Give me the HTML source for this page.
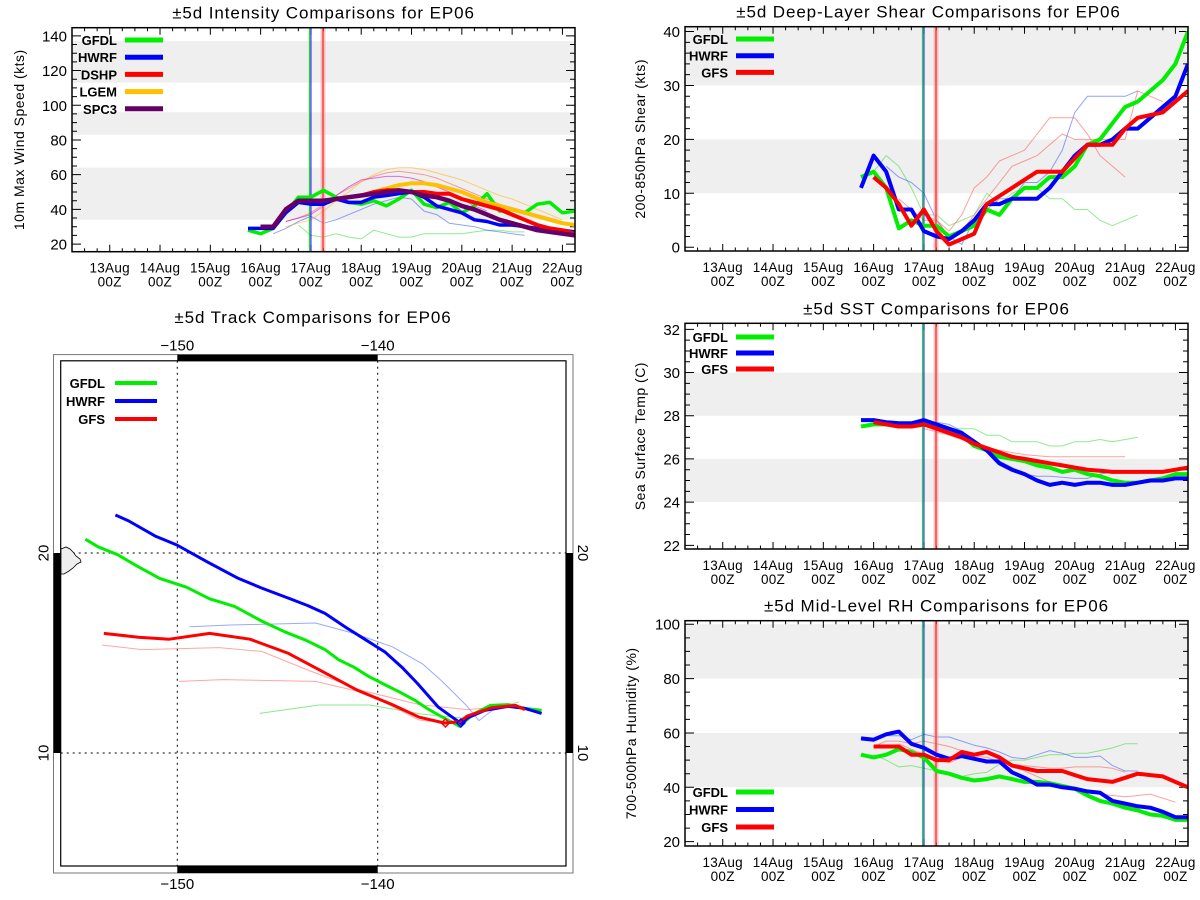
<!DOCTYPE html>
<html><head><meta charset="utf-8"><title>EP06 Comparisons</title>
<style>
html,body{margin:0;padding:0;background:#fff;}
svg{display:block;font-family:"Liberation Sans",sans-serif;}
</style></head>
<body>
<svg id="fig" width="1200" height="900" viewBox="0 0 1200 900" xmlns="http://www.w3.org/2000/svg"></svg>
<script>
// ===== DATA (time in days since 13Aug 00Z, 6-hourly steps) =====
const dayLabels = ["13Aug","14Aug","15Aug","16Aug","17Aug","18Aug","19Aug","20Aug","21Aug","22Aug"];
const initTimes = [3.97, 4.0, 4.24];

// Intensity (kts)
const intGFDL = [28,26,29,38,47,47,51,47,44,43,45,42,46,51,43,41,44,38,42,49,39,40,38,43,44,38,39];
const intGFDLStart = 2.75;
const intHWRF = [29,29,29,38,44,43,43,46,44,44,47,48,49,50,47,42,40,38,34,33,31,31,30,29,28,28,27];
const intHWRFStart = 2.75;
const intDSHP = [30,30,40,45,45,45,46,47,48,50,51,51,50,50,49,49,46,44,42,40,37,34,31,29,28,26];
const intDSHPStart = 3.0;
const intLGEM = [30,30,40,45,45,45,46,47,48,50,52,54,55,55,54,52,50,47,44,42,40,38,36,34,32,31];
const intLGEMStart = 3.0;
const intSPC3 = [30,30,40,45,45,45,46,47,48,49,50,51,50,48,47,45,42,40,37,34,32,30,28,27,26,25];
const intSPC3Start = 3.0;
const intOldGFDL = [31,25,24,26,24,23,28,26,24,24,26,26,26,26,27,28,28,27,27];
const intOldGFDLStart = 3.75;
const intOldHWRF = [26,29,33,36,32,34,37,40,43,45,47,46,39,37,32,31,30,28,27,26,25];
const intOldHWRFStart = 3.25;
const intOldDSHP = [33,35,38,43,48,52,56,59,61,62,61,60,58,55,52,49,46,43,41,39,37,35,33];
const intOldDSHPStart = 3.5;
const intOldLGEM = [30,32,34,39,45,50,56,60,63,64,64,63,61,59,57,54,51,48,46,43,40,37,34];
const intOldLGEMStart = 3.5;
const intOldSPC3 = [33,35,37,42,48,53,57,58,59,59,58,56,53,50,46,42,39];
const intOldSPC3Start = 3.5;

// Shear (kts)
const shrGFDL = [13,14,11,3.5,5,4,4,2,3,4,7,6,9,11,11,13,13,15,19,20,23,26,27,29,31,34,40];
const shrGFDLStart = 2.75;
const shrHWRF = [11,17,14,7,7,3,2,1.5,3,5,8,8,9,9,9,11,14,17,19,19,20,22,22,24,26,28,34];
const shrHWRFStart = 2.75;
const shrGFS = [13,11,8,4,7,3,0.5,1.5,2.5,8,9.5,11,12.5,14,14,14,16.5,19,19,19,22,24,24.5,25,27,29];
const shrGFSStart = 3.0;
const shrOldGFDL = [14,17,15,11,6,6,4,5,6,10,8,10,11,11,9,9,7,7,5,4,5,6];
const shrOldGFDLStart = 3.0;
const shrOldHWRF = [15,13,12,10,5,2,0.5,5,7,9,9,12,12,14,18,25,28,28,28,28,29];
const shrOldHWRFStart = 3.25;
const shrOldGFS1 = [9,7,5,5,3,6,11,13,16,17,18,21,24,24,24,21,17,15,13];
const shrOldGFS1Start = 3.5;
const shrOldGFS2 = [6,5,2,3,6,9,12,15,16,17,19,21,20,20,20,20,20,29,28,27];
const shrOldGFS2Start = 4.0;

// SST (C)
const sstGFDL = [27.5,27.6,27.6,27.5,27.5,27.6,27.5,27.3,27.1,26.6,26.4,26.1,26.0,25.9,25.7,25.6,25.4,25.5,25.3,25.2,25.0,24.9,24.9,25.0,25.1,25.3,25.3];
const sstGFDLStart = 2.75;
const sstHWRF = [27.8,27.8,27.7,27.65,27.65,27.8,27.6,27.4,27.2,26.8,26.4,25.8,25.5,25.3,25.0,24.8,24.9,24.8,24.9,24.9,24.8,24.8,24.9,25.0,25.0,25.1,25.1];
const sstHWRFStart = 2.75;
const sstGFS = [27.7,27.6,27.5,27.5,27.6,27.4,27.2,27.0,26.7,26.5,26.3,26.1,26.0,25.9,25.8,25.7,25.6,25.5,25.45,25.4,25.4,25.4,25.4,25.4,25.5,25.6];
const sstGFSStart = 3.0;
const sstOldGFDL = [27.5,27.5,27.4,27.4,27.4,27.1,27.1,26.8,26.8,26.8,26.6,26.6,26.8,26.8,26.9,26.8,26.9,27.0];
const sstOldGFDLStart = 4.0;
const sstOldGFS = [27.4,27.25,27.1,26.9,26.7,26.55,26.4,26.3,26.2,26.15,26.1,26.1,26.1,26.1,26.1,26.1,26.1];
const sstOldGFSStart = 4.0;
const sstOldHWRF = [27.7,27.6,27.3,26.8,26.3,25.9,25.6,25.3,25.2,25.2,25.15,25.1,25.1,25.3,25.4];
const sstOldHWRFStart = 4.25;

// RH (%)
const rhGFDL = [52,51,52,54,53,51,46,45,43.5,42.5,43,44,43,42,42,41.5,40.5,39.5,37,35,34,32.5,31.5,30,29.5,28,28];
const rhGFDLStart = 2.75;
const rhHWRF = [58,57.5,59.5,60.5,56,54.5,52,50.5,51.5,50.5,49.5,49.5,45.5,43.5,41,41,40,39.5,38.5,38,35,34,33,32.5,31,29,29];
const rhHWRFStart = 2.75;
const rhGFS = [55,55,55,52,52,50,50,53,52,53,51,48,47,46,46,46,44.5,43,42.5,42,43.5,45,44.5,44,42,40];
const rhGFSStart = 3.0;
const rhOldGFDL = [52,50,47.5,48,47,46,45,44,45,45.5,48.5,50,50,51,52,52,52.5,52.5,53.5,54.5,56,56];
const rhOldGFDLStart = 3.0;
const rhOldHWRF = [59,59,57.5,59.5,58.5,58.5,57,55.5,54.5,53,51,50.5,52,53.5,52.5,51,51,51.5,48,46,46];
const rhOldHWRFStart = 3.25;
const rhOldGFS1 = [55,57,57,56,57,56,55,53.5,51.5,51,49.5,48,46,44,42,40,39,38,37.5,37,36.5,37,37.5,36,34.5];
const rhOldGFS1Start = 3.0;
const rhOldGFS2 = [56,54,52,50,49,51,51,50,49,48.5,48,47.5,47,47,47.5,47.5,47.5,47,45.5];
const rhOldGFS2Start = 3.5;

// Tracks (lon, lat)
const trkGFDLLon = [-154.59,-153.95,-152.99,-151.94,-150.88,-149.54,-148.39,-147.14,-145.80,-144.64,-143.59,-142.63,-141.96,-141.19,-140.42,-139.65,-138.89,-138.12,-137.54,-136.87,-135.91,-135.24,-134.38,-133.51,-132.65,-131.82];
const trkGFDLLat = [20.69,20.31,19.92,19.31,18.73,18.29,17.71,17.33,16.60,16.06,15.64,15.17,14.67,14.29,13.81,13.42,13.04,12.62,12.23,11.85,11.33,11.94,12.38,12.42,12.23,12.13];
const trkHWRFLon = [-153.09,-152.42,-151.07,-150.02,-148.48,-146.95,-145.80,-144.26,-143.49,-142.63,-141.57,-140.81,-139.65,-138.79,-138.02,-136.97,-135.82,-135.53,-134.66,-133.51,-132.65,-131.82];
const trkHWRFLat = [21.90,21.60,20.83,20.40,19.54,18.73,18.25,17.67,17.37,16.98,16.27,15.79,15.06,14.29,13.48,12.29,11.46,11.75,12.13,12.33,12.23,11.98];
const trkGFSLon = [-153.67,-151.94,-150.40,-148.39,-146.37,-144.45,-142.73,-141.00,-139.27,-137.93,-136.68,-135.91,-135.53,-134.28,-133.13,-132.65];
const trkGFSLat = [15.98,15.79,15.69,15.98,15.69,14.98,14.06,13.13,12.42,11.79,11.50,11.56,11.85,12.27,12.38,12.17];
const trkOldHWRFLon = [-149.39,-147.33,-143.11,-141.19,-139.27,-137.74,-136.78,-135.53,-134.95,-134.28,-133.51];
const trkOldHWRFLat = [16.31,16.40,16.50,15.98,15.31,14.44,13.58,12.33,11.62,12.13,12.33];
const trkOldGFS1Lon = [-153.76,-151.75,-147.91,-145.80,-143.49,-140.81,-137.93,-135.53,-133.13];
const trkOldGFS1Lat = [15.40,15.17,15.27,15.08,14.15,13.13,12.42,12.17,12.38];
const trkOldGFS2Lon = [-149.92,-147.72,-143.11,-140.61,-137.93,-137.16];
const trkOldGFS2Lat = [13.58,13.67,13.58,13.00,11.65,11.56];
const trkOldGFDLLon = [-145.89,-142.92,-140.42,-137.74,-135.82,-132.94];
const trkOldGFDLLat = [11.98,12.40,12.40,11.94,11.75,12.56];
const lonTicks = [-150,-140];
const latTicks = [20,10];

// ===== DRAWING =====
const NS = "http://www.w3.org/2000/svg";
const svg = document.getElementById("fig");
function mk(tag, attrs, parent){
  const e = document.createElementNS(NS, tag);
  for (const k in attrs) e.setAttribute(k, attrs[k]);
  (parent || svg).appendChild(e);
  return e;
}
function txt(s, x, y, size, anchor, parent, extra){
  const t = mk("text", Object.assign({x:x, y:y, "font-size":size, "text-anchor":anchor||"middle", fill:"#000"}, extra||{}), parent);
  t.textContent = s;
  return t;
}

function timePanel(cfg){
  const g = mk("g", {});
  
  
  const L = cfg.x0, R = cfg.x0 + 503, T = cfg.top, B = cfg.bottom;
  const xs = d => L + (d + 0.75) / 10 * (R - L);
  const ys = v => B - (v - cfg.ymin) / (cfg.ymax - cfg.ymin) * (B - T);
  cfg.bands.forEach(b => {
    const lo = Math.max(b[0], cfg.ymin), hi = Math.min(b[1], cfg.ymax);
    const r = mk("rect", {x:L, y:ys(hi), width:R-L, height:ys(lo)-ys(hi), fill:"#efefef"}, g);
    
    
  });
  const ti = txt(cfg.title, (L+R)/2 + cfg.titleDx, T - 9, 17, "middle", g, {"letter-spacing":"0.9"});
  
  
  const yt = txt(cfg.ytitle, 0, 0, 14, "middle", g, {transform:`translate(${cfg.ytx},${(T+B)/2}) rotate(-90)`, "letter-spacing":"0.5"});
  
  
  let tp = "";
  for (let d = -0.75; d <= 9.26; d += 0.25) {
    const x = xs(d), len = Math.abs(d - Math.round(d)) < 0.01 ? 7 : 3.5;
    tp += `M${x},${B}v${-len}M${x},${T}v${len}`;
  }
  for (let v = Math.ceil(cfg.ymin / cfg.minor) * cfg.minor; v <= cfg.ymax; v += cfg.minor) {
    const y = ys(v), maj = Math.abs(v / cfg.major - Math.round(v / cfg.major)) < 1e-6;
    const len = maj ? 9 : 5;
    tp += `M${L},${y}h${len}M${R},${y}h${-len}`;
  }
  const tk = mk("path", {d:tp, stroke:"#000", "stroke-width":1, fill:"none"}, g);
  
  
  cfg.yticks.forEach(v => {
    const t = txt(String(v), L - 5, ys(v) + 5.5, 15, "end", g);
    
    
  });
  dayLabels.forEach((s, i) => {
    const t1 = txt(s, xs(i), B + 21, 13.5, "middle", g, {"letter-spacing":"0.3"});
    
    
    const t2 = txt("00Z", xs(i), B + 35, 13.5, "middle", g, {"letter-spacing":"0.3"});
    
    
  });
  const clip = "clip-" + cfg.name;
  const cp = mk("clipPath", {id:clip}, g);
  mk("rect", {x:L, y:T, width:R-L, height:B-T}, cp);
  const sg = mk("g", {"clip-path":`url(#${clip})`}, g);
  function line(vals, start, color, w, name, op){
    const pts = vals.map((v, i) => xs(start + i * 0.25).toFixed(1) + "," + ys(v).toFixed(1)).join(" ");
    const p = mk("polyline", {points:pts, fill:"none", stroke:color, "stroke-width":w, "stroke-linejoin":"round", opacity:op||1}, sg);
    
    
  }
  cfg.old.forEach(s => line(s[0], s[1], s[2], 1, s[3], 0.55));
  const vl = mk("rect", {x:xs(initTimes[2]) - 2.5, y:T, width:5, height:B-T, fill:"#f4a0a0", opacity:0.6}, sg);
  
  
  [["#00dd00", 0], ["#0000ff", 1], ["#ff0000", 2]].forEach(c => {
    const l = mk("line", {x1:xs(initTimes[c[1]]), x2:xs(initTimes[c[1]]), y1:T, y2:B, stroke:c[0], "stroke-width":1}, sg);
    
    
  });
  cfg.series.forEach(s => line(s[0], s[1], s[2], s[4] || 4, s[3]));
  const fr = mk("rect", {x:L, y:T, width:R-L, height:B-T, fill:"none", stroke:"#000", "stroke-width":1.5}, g);
  
  
  cfg.legend.forEach((e, i) => {
    const y = cfg.legY + i * cfg.legDy;
    const lt = txt(e[0], cfg.legTx, y + 5, 13, "end", g, {"font-weight":"bold"});
    
    
    const ll = mk("line", {x1:cfg.legTx + 8, x2:cfg.legTx + 46, y1:y, y2:y, stroke:e[1], "stroke-width":5}, g);
    
    
  });
}

const G = "#00ee00", BL = "#0000ff", RD = "#ff0000", OR = "#ffc000", PU = "#660066";

timePanel({name:"intensity-panel", title:"±5d Intensity Comparisons for EP06", titleDx:0, ytitle:"10m Max Wind Speed (kts)", ytx:24,
  x0:72, top:27.7, bottom:251.7, ymin:15.6, ymax:144.7, major:20, minor:5, yticks:[20,40,60,80,100,120,140],
  bands:[[34,64],[83,96],[113,137]],
  old:[[intOldGFDL,intOldGFDLStart,"#33dd33","old-gfdl-line"],[intOldHWRF,intOldHWRFStart,"#3355ff","old-hwrf-line"],
       [intOldDSHP,intOldDSHPStart,"#ff5050","old-dshp-line"],[intOldLGEM,intOldLGEMStart,"#ffb000","old-lgem-line"],
       [intOldSPC3,intOldSPC3Start,"#cc00cc","old-spc3-line"]],
  series:[[intGFDL,intGFDLStart,G,"gfdl-line",3.5],[intHWRF,intHWRFStart,BL,"hwrf-line",3.5],[intLGEM,intLGEMStart,OR,"lgem-line",4],
          [intDSHP,intDSHPStart,RD,"dshp-line",4],[intSPC3,intSPC3Start,PU,"spc3-line",4.5]],
  legend:[["GFDL",G],["HWRF",BL],["DSHP",RD],["LGEM",OR],["SPC3",PU]], legTx:117, legY:40, legDy:17.2});

timePanel({name:"shear-panel", title:"±5d Deep-Layer Shear Comparisons for EP06", titleDx:-8, ytitle:"200-850hPa Shear (kts)", ytx:645,
  x0:685, top:26.7, bottom:251, ymin:-0.7, ymax:40.9, major:10, minor:2, yticks:[0,10,20,30,40],
  bands:[[10,20],[30,50]],
  old:[[shrOldGFDL,shrOldGFDLStart,"#33dd33","old-gfdl-line"],[shrOldHWRF,shrOldHWRFStart,"#3355ff","old-hwrf-line"],
       [shrOldGFS1,shrOldGFS1Start,"#ff5050","old-gfs-line"],[shrOldGFS2,shrOldGFS2Start,"#ff5050","old-gfs-line"]],
  series:[[shrGFDL,shrGFDLStart,G,"gfdl-line"],[shrHWRF,shrHWRFStart,BL,"hwrf-line"],[shrGFS,shrGFSStart,RD,"gfs-line"]],
  legend:[["GFDL",G],["HWRF",BL],["GFS",RD]], legTx:728, legY:39, legDy:16.7});

timePanel({name:"sst-panel", title:"±5d SST Comparisons for EP06", titleDx:0, ytitle:"Sea Surface Temp (C)", ytx:645,
  x0:685, top:323.3, bottom:549, ymin:21.83, ymax:32.28, major:2, minor:0.5, yticks:[22,24,26,28,30,32],
  bands:[[24,26],[28,30]],
  old:[[sstOldGFDL,sstOldGFDLStart,"#33dd33","old-gfdl-line"],[sstOldGFS,sstOldGFSStart,"#ff5050","old-gfs-line"],
       [sstOldHWRF,sstOldHWRFStart,"#3355ff","old-hwrf-line"]],
  series:[[sstGFDL,sstGFDLStart,G,"gfdl-line"],[sstHWRF,sstHWRFStart,BL,"hwrf-line"],[sstGFS,sstGFSStart,RD,"gfs-line"]],
  legend:[["GFDL",G],["HWRF",BL],["GFS",RD]], legTx:728, legY:337, legDy:16});

timePanel({name:"rh-panel", title:"±5d Mid-Level RH Comparisons for EP06", titleDx:0, ytitle:"700-500hPa Humidity (%)", ytx:636,
  x0:685, top:620.7, bottom:846, ymin:18.4, ymax:101.3, major:20, minor:5, yticks:[20,40,60,80,100],
  bands:[[40,60],[80,100]],
  old:[[rhOldGFDL,rhOldGFDLStart,"#33dd33","old-gfdl-line"],[rhOldHWRF,rhOldHWRFStart,"#3355ff","old-hwrf-line"],
       [rhOldGFS1,rhOldGFS1Start,"#ff5050","old-gfs-line"],[rhOldGFS2,rhOldGFS2Start,"#ff5050","old-gfs-line"]],
  series:[[rhGFDL,rhGFDLStart,G,"gfdl-line"],[rhHWRF,rhHWRFStart,BL,"hwrf-line"],[rhGFS,rhGFSStart,RD,"gfs-line"]],
  legend:[["GFDL",G],["HWRF",BL],["GFS",RD]], legTx:728, legY:792, legDy:17.5});

// ===== TRACK MAP =====
(function(){
  const g = mk("g", {});
  
  
  const oL = 53.5, oR = 573, oT = 354.6, oB = 873;
  const iL = 60.7, iR = 566, iT = 360.8, iB = 866;
  const lx = lon => 177.3 + (lon + 150) * 20.04;
  const ly = lat => 553 - (lat - 20) * 20.0;
  const tt = txt("±5d Track Comparisons for EP06", 313, 323, 17, "middle", g, {"letter-spacing":"0.9"});
  
  
  const of = mk("rect", {x:oL, y:oT, width:oR-oL, height:oB-oT, fill:"none", stroke:"#777", "stroke-width":1}, g);
  
  
  const bars = [[lx(-150), oT, lx(-140)-lx(-150), iT-oT], [lx(-150), iB, lx(-140)-lx(-150), oB-iB],
                [oL, ly(20), iL-oL, ly(10)-ly(20)], [iR, ly(20), oR-iR, ly(10)-ly(20)]];
  bars.forEach(b => {
    const r = mk("rect", {x:b[0], y:b[1], width:b[2], height:b[3], fill:"#000"}, g);
    
    
  });
  const inf = mk("rect", {x:iL, y:iT, width:iR-iL, height:iB-iT, fill:"none", stroke:"#000", "stroke-width":1.2}, g);
  
  
  lonTicks.forEach(lon => {
    const l = mk("line", {x1:lx(lon), x2:lx(lon), y1:iT, y2:iB, stroke:"#000", "stroke-width":1, "stroke-dasharray":"2,4"}, g);
    
    
    const a = txt("−" + Math.abs(lon), lx(lon), oT - 4, 15, "middle", g);
    
    
    const b = txt("−" + Math.abs(lon), lx(lon), oB + 16, 15, "middle", g);
    
    
  });
  latTicks.forEach(lat => {
    const l = mk("line", {x1:iL, x2:iR, y1:ly(lat), y2:ly(lat), stroke:"#000", "stroke-width":1, "stroke-dasharray":"2,4"}, g);
    
    
    const a = txt(String(lat), 0, 0, 15, "middle", g, {transform:`translate(${oL-5},${ly(lat)}) rotate(-90)`});
    
    
    const b = txt(String(lat), 0, 0, 15, "middle", g, {transform:`translate(${oR+5},${ly(lat)}) rotate(90)`});
    
    
  });
  const hi = mk("path", {d:"M61,549 L66,547 L70,549 L73,552 L76,556 L80,559 L81,562 L77,564 L73,568 L69,571 L64,574 L61,574 Z", fill:"#eee", stroke:"#000", "stroke-width":0.8}, g);
  
  
  function trk(lons, lats, color, w, name, op){
    const pts = lons.map((v, i) => lx(v).toFixed(1) + "," + ly(lats[i]).toFixed(1)).join(" ");
    const p = mk("polyline", {points:pts, fill:"none", stroke:color, "stroke-width":w, "stroke-linejoin":"round", opacity:op||1}, g);
    
    
  }
  trk(trkOldHWRFLon, trkOldHWRFLat, "#3355ff", 1, "old-hwrf-track", 0.5);
  trk(trkOldGFS1Lon, trkOldGFS1Lat, "#ff5050", 1, "old-gfs-track", 0.5);
  trk(trkOldGFS2Lon, trkOldGFS2Lat, "#ff5050", 1, "old-gfs-track", 0.5);
  trk(trkOldGFDLLon, trkOldGFDLLat, "#33dd33", 1, "old-gfdl-track", 0.6);
  trk(trkGFDLLon, trkGFDLLat, G, 3, "gfdl-track");
  trk(trkHWRFLon, trkHWRFLat, BL, 3, "hwrf-track");
  trk(trkGFSLon, trkGFSLat, RD, 3, "gfs-track");
  const dm1 = mk("path", {d:`M${lx(-136.62)},${ly(11.5)-4}l4,4l-4,4l-4,-4z`, fill:"none", stroke:RD, "stroke-width":1.5}, g);
  
  
  const dm2 = mk("path", {d:`M${lx(-135.85)},${ly(11.5)-4}l4,4l-4,4l-4,-4z`, fill:"none", stroke:BL, "stroke-width":1.5}, g);
  
  
  [["GFDL",G,383],["HWRF",BL,401],["GFS",RD,419]].forEach(e => {
    const t = txt(e[0], 105, e[2] + 5, 13, "end", g, {"font-weight":"bold"});
    
    
    const l = mk("line", {x1:115, x2:157, y1:e[2], y2:e[2], stroke:e[1], "stroke-width":4}, g);
    
    
  });
})();
</script>
</body></html>
